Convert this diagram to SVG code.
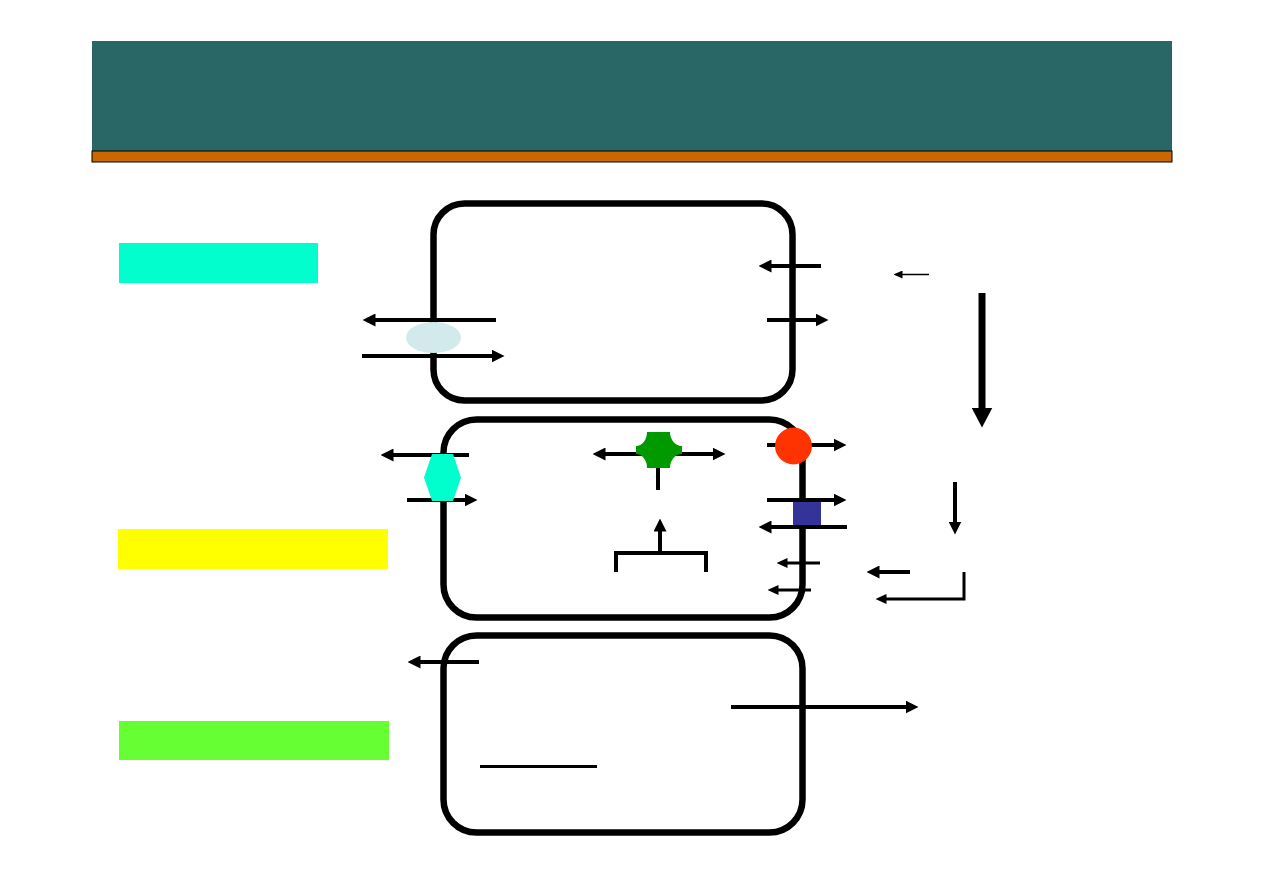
<svg xmlns="http://www.w3.org/2000/svg" width="1263" height="893" viewBox="0 0 1263 893">
<style>
.box{fill:none;stroke:#000;stroke-width:6.5}
.c4{fill:none;stroke:#000;stroke-width:4}
.c3{fill:none;stroke:#000;stroke-width:3}
.c1{fill:none;stroke:#000;stroke-width:1.5}
.c7{fill:none;stroke:#000;stroke-width:7}
</style>
<defs>
<marker id="ah" markerUnits="userSpaceOnUse" markerWidth="13" markerHeight="13" refX="0.5" refY="6.5" orient="auto-start-reverse"><path d="M0,0L13,6.5L0,13z" fill="#000"/></marker>
<marker id="ahs" markerUnits="userSpaceOnUse" markerWidth="11" markerHeight="10" refX="0.5" refY="5" orient="auto-start-reverse"><path d="M0,0L11,5L0,10z" fill="#000"/></marker>
<marker id="aht" markerUnits="userSpaceOnUse" markerWidth="9" markerHeight="8" refX="0.5" refY="4" orient="auto-start-reverse"><path d="M0,0L9,4L0,8z" fill="#000"/></marker>
<marker id="ahb" markerUnits="userSpaceOnUse" markerWidth="20" markerHeight="21" refX="0.5" refY="10.5" orient="auto-start-reverse"><path d="M0,0L20,10.5L0,21z" fill="#000"/></marker>
</defs>
<g id="header">
<rect x="92" y="41" width="1080" height="110" fill="#296666"/>
<rect x="92" y="151" width="1080" height="11" fill="#CC6600" stroke="#000" stroke-width="1"/>
</g>
<g id="label-cyan"><rect x="119" y="243" width="199" height="40" fill="#00FFCC"/></g>
<g id="label-yellow"><rect x="118" y="529" width="270" height="40" fill="#FFFF00"/></g>
<g id="label-green"><rect x="119" y="721" width="270" height="39" fill="#66FF33"/></g>
<g id="box1"><rect class="box" x="433.5" y="203.5" width="359" height="197" rx="31"/></g>
<g id="box2"><rect class="box" x="443.5" y="419.5" width="359" height="198" rx="33"/></g>
<g id="box3"><rect class="box" x="443.5" y="635.5" width="359" height="197" rx="33"/></g>
<g id="connectors">
<line class="c4" x1="496" y1="320" x2="375" y2="320" marker-end="url(#ah)"/>
<line class="c4" x1="362" y1="356" x2="492" y2="356" marker-end="url(#ah)"/>
<line class="c4" x1="821" y1="266" x2="771" y2="266" marker-end="url(#ah)"/>
<line class="c4" x1="767" y1="320" x2="816" y2="320" marker-end="url(#ah)"/>
<line class="c1" x1="929" y1="274.5" x2="902" y2="274.5" marker-end="url(#aht)"/>
<line class="c7" x1="982" y1="293" x2="982" y2="408" marker-end="url(#ahb)"/>
<line class="c4" x1="469" y1="455" x2="393" y2="455" marker-end="url(#ah)"/>
<line class="c4" x1="407" y1="500" x2="465" y2="500" marker-end="url(#ah)"/>
<line class="c4" x1="605" y1="454" x2="713" y2="454" marker-start="url(#ah)" marker-end="url(#ah)"/>
<line class="c4" x1="658" y1="466" x2="658" y2="490"/>
<line class="c4" x1="660" y1="553" x2="660" y2="531" marker-end="url(#ah)"/>
<polyline class="c4" points="616,572 616,553 706,553 706,572"/>
<line class="c4" x1="767" y1="445" x2="834" y2="445" marker-end="url(#ah)"/>
<line class="c4" x1="767" y1="500" x2="834" y2="500" marker-end="url(#ah)"/>
<line class="c4" x1="847" y1="527" x2="771" y2="527" marker-end="url(#ah)"/>
<line class="c3" x1="820" y1="563" x2="787" y2="563" marker-end="url(#ahs)"/>
<line class="c3" x1="811" y1="590" x2="778" y2="590" marker-end="url(#ahs)"/>
<line class="c4" x1="955" y1="482" x2="955" y2="522" marker-end="url(#ah)"/>
<line class="c4" x1="910" y1="572" x2="879" y2="572" marker-end="url(#ah)"/>
<polyline class="c3" points="964,572 964,599 886,599" marker-end="url(#ahs)"/>
<line class="c4" x1="479" y1="662" x2="420" y2="662" marker-end="url(#ah)"/>
<line class="c4" x1="731" y1="707" x2="906" y2="707" marker-end="url(#ah)"/>
<line class="c3" x1="480" y1="766.5" x2="597" y2="766.5"/>
</g>
<g id="channel"><ellipse cx="433.5" cy="337.5" rx="27.5" ry="15.5" fill="#D3EAEC"/></g>
<g id="hexagon"><polygon points="424,477.5 432,454 453,454 461,477.5 453,501 432,501" fill="#00FFCC"/></g>
<g id="receptor"><path d="M647,432L670,432A12,14 0 0 0 682,446L682,454A12,14 0 0 0 670,468L647,468A11,14 0 0 0 636,454L636,446A11,14 0 0 0 647,432Z" fill="#009900"/></g>
<g id="red-circle"><circle cx="793.5" cy="446" r="18.5" fill="#FF3300"/></g>
<g id="blue-square"><rect x="793" y="502" width="28" height="23" fill="#333399"/></g>
</svg>
